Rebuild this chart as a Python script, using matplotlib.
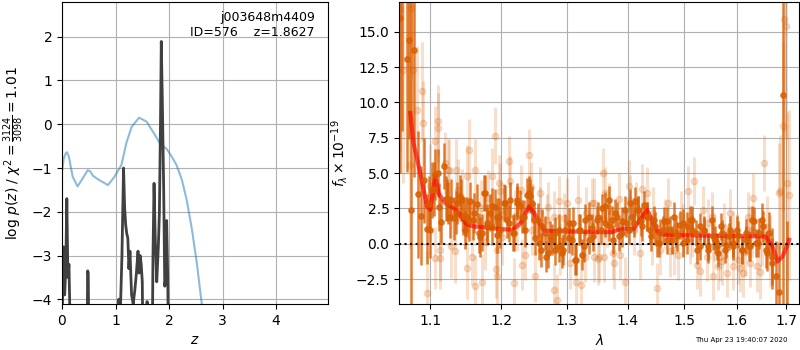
import numpy as np
import matplotlib
matplotlib.use('Agg')
import matplotlib.pyplot as plt
from matplotlib.ticker import ScalarFormatter, NullLocator, NullFormatter

# --- left panel: redshift fit ---
chi_z = [0.00, 0.03, 0.07, 0.094, 0.13, 0.20, 0.29, 0.38, 0.48, 0.53, 0.58, 0.70, 0.86,
         0.98, 1.11, 1.20, 1.30, 1.44, 1.58, 1.74, 1.83, 1.96, 2.05, 2.14, 2.24, 2.33,
         2.43, 2.52, 2.61, 2.70]
chi_val = [-1.10, -0.80, -0.66, -0.64, -0.75, -1.20, -1.42, -1.25, -1.05, -1.08, -1.18,
           -1.28, -1.39, -1.20, -0.93, -0.44, -0.06, 0.15, 0.06, -0.25, -0.44, -0.57,
           -0.74, -0.93, -1.27, -1.73, -2.42, -3.18, -4.09, -5.20]

pz_z = [0.00, 0.03, 0.05, 0.07, 0.09, 0.11, 0.13, 0.15, 0.16, 0.46, 0.48, 0.49, 0.51,
        1.03, 1.06, 1.09, 1.12, 1.15, 1.17, 1.19, 1.21, 1.23, 1.25, 1.27, 1.30, 1.33,
        1.36, 1.39, 1.42, 1.44, 1.46, 1.48, 1.50, 1.52, 1.57, 1.59, 1.61, 1.68, 1.70,
        1.72, 1.74, 1.77, 1.80, 1.82, 1.84, 1.855, 1.875, 1.90, 1.92, 1.94, 1.955,
        1.975, 2.00]
pz_val = [-4.6, -2.8, -3.9, -3.3, -1.7, -3.5, -3.2, -4.5, -6.0, -6.0, -3.35, -3.4, -6.0,
          -6.0, -4.0, -4.3, -3.0, -1.0, -1.9, -2.3, -2.5, -2.6, -3.3, -2.9, -3.9, -4.1,
          -3.8, -3.4, -2.9, -3.4, -3.0, -3.2, -3.6, -6.0, -6.0, -4.05, -6.0, -6.0, -3.0,
          -1.35, -2.5, -3.6, -2.8, -2.0, 0.0, 1.89, 0.5, -1.5, -3.7, -3.5, -2.2,
          -3.5, -6.0]

# --- right panel: spectrum ---
dark_wave = [1.0598, 1.0621, 1.0686, 1.0718, 1.0749, 1.0785, 1.0838, 1.0879, 1.0919, 1.0950,
             1.0987, 1.1027, 1.1063, 1.1108, 1.1144, 1.1185, 1.1217, 1.1244, 1.1286, 1.1326,
             1.1357, 1.1415, 1.1446, 1.1477, 1.1509, 1.1547, 1.1594, 1.1650, 1.1689, 1.1722,
             1.1760, 1.1793, 1.1833, 1.1866, 1.1906, 1.1939, 1.1958, 1.2033, 1.2083, 1.2130,
             1.2179, 1.2229, 1.2279, 1.2329, 1.2379, 1.2419, 1.2455, 1.2506, 1.2547, 1.2598,
             1.2649, 1.2702, 1.2764, 1.2816, 1.2868, 1.2921, 1.2973, 1.3037, 1.3090, 1.3133,
             1.3197, 1.3241, 1.3294, 1.3359, 1.3413, 1.3496, 1.3568, 1.3623, 1.3679, 1.3735,
             1.3791, 1.3847, 1.3904, 1.3960, 1.4017, 1.4075, 1.4132, 1.4189, 1.4231, 1.4277,
             1.4336, 1.4393, 1.4452, 1.4511, 1.4570, 1.4630, 1.4690, 1.4749, 1.4810, 1.4871,
             1.4931, 1.4991, 1.5053, 1.5114, 1.5157, 1.5239, 1.5300, 1.5381, 1.5445, 1.5521,
             1.5583, 1.5647, 1.5724, 1.5790, 1.5871, 1.5935, 1.6034, 1.6100, 1.6180, 1.6243,
             1.6309, 1.6377, 1.6443, 1.6509, 1.6578, 1.6645, 1.6712, 1.6781, 1.6849, 1.6939,
             1.7010,
             1.1000, 1.1044, 1.1112, 1.1226, 1.1272, 1.1364, 1.1411, 1.1481, 1.1528, 1.1599,
             1.1670, 1.1741, 1.1789, 1.1862, 1.1934, 1.1983, 1.2056, 1.2105, 1.2164, 1.2229,
             1.2304, 1.2354, 1.2415, 1.2480, 1.2557, 1.2609, 1.2671, 1.2738, 1.2816, 1.2868,
             1.2946, 1.3026, 1.3080, 1.3149, 1.3213, 1.3278, 1.3348, 1.3420, 1.3486, 1.3552,
             1.3623, 1.3695, 1.3762, 1.3829, 1.3904, 1.3977, 1.4046, 1.4115, 1.4189, 1.4258,
             1.4336, 1.4406, 1.4481, 1.4557, 1.4628, 1.4700, 1.4780, 1.4858,
             1.4991, 1.5064, 1.5146, 1.5226, 1.5300, 1.5375, 1.5456, 1.5540, 1.5615, 1.5692,
             1.5774, 1.5857, 1.5935, 1.6013, 1.6099, 1.6184, 1.6263, 1.6343, 1.6430, 1.6519,
             1.6600, 1.6702]
dark_flux = [16.0, 18.0, 13.1, 14.4, 2.4, 13.7, 3.5, 2.0, 4.5, 1.05,
             2.8, 3.8, 4.9, 5.0, 1.56, 5.5, 3.2, 2.9, 3.1, 1.8,
             2.2, 3.1, 2.0, 1.0, 1.9, 3.0, 1.7, 2.83, 0.5, 0.78,
             3.6, 1.5, 2.2, 1.2, 2.6, 0.64, 1.93, 2.9, 1.7, 3.1,
             0.78, 3.1, 2.64, 1.93, 3.47, 3.35, 2.9, 0.42, 1.7, -0.42,
             0.78, -0.64, 0.28, 0.78, -0.19, -0.64, 1.0, 0.42, 1.47, -1.13,
             1.0, -0.78, 1.7, 0.28, 1.13, 1.93, 2.53, 1.46, 3.1, 1.7,
             2.17, 0.52, 1.58, 2.4, 1.0, 1.93, 3.0, 2.4, 1.58, 2.76,
             1.93, 1.0, 1.7, 0.05, 0.76, 1.58, 0.28, 1.0, 1.93, 0.52,
             1.35, 0.05, 1.23, 1.7, 1.0, -0.42, 1.23, 0.87, -0.19, 1.7,
             0.28, -0.66, 0.76, -0.07, 1.0, 0.05, 0.64, -0.42, 0.28, -0.19,
             1.7, 0.05, 0.76, 1.7, -0.42, 0.76, -0.9, -2.3, -3.4, 10.55,
             -4.4,
             1.0, 3.9, 2.6, 3.1, 1.9, 2.9, 3.35, 1.93, 1.58, 2.17,
             0.76, 3.6, 1.23, 2.64, 1.93, 1.0, 2.88, 1.46, 0.76, 2.88,
             1.93, 1.0, 3.6, 1.7, 0.05, 1.23, -0.9, 0.52, -0.42, 1.0,
             -0.42, 1.46, 0.28, -1.13, 1.0, -0.19, 1.93, 0.52, 1.7, 1.0,
             2.64, 1.23, 0.28, 1.93, 0.76, 1.46, 2.88, 1.46, 2.4, 1.23,
             1.93, 0.52, 1.23, 0.05, 1.0, 1.58, 0.28, 0.76,
             1.46, 0.28, 1.7, 0.76, -0.19, 1.0, -0.42, 0.52, -0.19, 1.23,
             -0.42, 0.52, -0.19, 1.0, -0.42, 0.76, -0.19, 1.58, 0.05, 1.23,
             -0.66, -1.37]
dark_err = [11.0, 10.0, 8.0, 7.0, 20.0, 9.0, 4.5, 3.5, 3.0, 2.5,
            2.0, 2.0, 1.8, 1.7, 1.6, 1.6, 1.6, 1.5, 1.5, 1.5,
            1.5, 1.5, 1.4, 1.4, 1.4, 1.4, 1.4, 1.4, 1.4, 1.3,
            1.3, 1.3, 1.3, 1.3, 1.3, 1.3, 1.3, 1.3, 1.3, 1.3,
            1.3, 1.2, 1.2, 1.2, 1.2, 1.2, 1.2, 1.2, 1.2, 1.2,
            1.2, 1.1, 1.1, 1.1, 1.1, 1.1, 1.1, 1.1, 1.1, 1.1,
            1.1, 1.1, 1.1, 1.0, 1.0, 1.0, 1.0, 1.0, 1.0, 1.0,
            1.0, 1.0, 1.0, 1.0, 1.0, 1.0, 1.0, 1.0, 1.0, 1.0,
            1.0, 1.0, 1.0, 1.0, 1.0, 1.0, 1.0, 1.0, 1.0, 1.0,
            1.0, 1.0, 1.0, 1.0, 1.0, 1.0, 0.95, 0.95, 0.95, 0.95,
            0.95, 0.95, 0.95, 0.95, 0.95, 0.95, 0.95, 1.0, 1.0, 1.0,
            1.0, 1.0, 1.1, 1.2, 1.3, 1.5, 2.0, 2.5, 3.5, 15.0,
            6.0,
            2.0, 1.9, 1.7, 1.5, 1.5, 1.5, 1.5, 1.4, 1.4, 1.4,
            1.4, 1.3, 1.3, 1.3, 1.3, 1.3, 1.3, 1.3, 1.3, 1.2,
            1.2, 1.2, 1.2, 1.2, 1.2, 1.2, 1.1, 1.1, 1.1, 1.1,
            1.1, 1.1, 1.1, 1.1, 1.1, 1.1, 1.0, 1.0, 1.0, 1.0,
            1.0, 1.0, 1.0, 1.0, 1.0, 1.0, 1.0, 1.0, 1.0, 1.0,
            1.0, 1.0, 1.0, 1.0, 1.0, 1.0, 1.0, 1.0,
            1.0, 1.0, 1.0, 0.95, 0.95, 0.95, 0.95, 0.95, 0.95, 0.95,
            0.95, 0.95, 0.95, 0.95, 1.0, 1.0, 1.0, 1.0, 1.0, 1.1,
            1.3, 1.8]

light_wave = [1.0604, 1.0643, 1.0730, 1.0750, 1.0772, 1.0817, 1.0884, 1.0907, 1.0950, 1.0996,
              1.1063, 1.1098, 1.1101, 1.1131, 1.1197, 1.1244, 1.1286, 1.1357, 1.1430, 1.1500,
              1.1500, 1.1537, 1.1618, 1.1618, 1.1713, 1.1760, 1.1808, 1.1906, 1.1917, 1.1928,
              1.1934, 1.1958, 1.1983, 1.2012, 1.2105, 1.2130, 1.2179, 1.2234, 1.2294, 1.2354,
              1.2404, 1.2445, 1.2506, 1.2583, 1.2686, 1.2842, 1.2868, 1.3053, 1.3144, 1.3176,
              1.3229, 1.3294, 1.3403, 1.3430, 1.3512, 1.3584, 1.3595, 1.3623, 1.3679, 1.3774,
              1.3875, 1.3960, 1.4017, 1.4046, 1.4103, 1.4218, 1.4248, 1.4336, 1.4422, 1.4511,
              1.4570, 1.4719, 1.4749, 1.4900, 1.4991, 1.5083, 1.5114, 1.5177, 1.5238, 1.5300,
              1.5362, 1.5432, 1.5521, 1.5564, 1.5647, 1.5717, 1.5807, 1.5871, 1.5929, 1.6034,
              1.6131, 1.6164, 1.6230, 1.6303, 1.6329, 1.6397, 1.6463, 1.6550, 1.6604, 1.6665,
              1.6855, 1.6870, 1.6939, 1.6960, 1.6994, 1.7048,
              1.1067, 1.1135, 1.1249, 1.1341, 1.1575, 1.1862, 1.2304, 1.2583, 1.2790, 1.2790,
              1.3513, 1.3762, 1.4810, 1.3000, 1.2894, 1.3430, 1.5550, 1.5935, 1.6066, 1.6263,
              1.5678, 1.7015,
              1.2200, 1.2450, 1.2700, 1.2950, 1.3300, 1.3650, 1.3850, 1.4150, 1.4450, 1.4650,
              1.4950, 1.5150, 1.5450, 1.5750, 1.6000, 1.6250, 1.6500, 1.1380, 1.1700, 1.2000]
light_flux = [16.6, 12.3, 5.6, 16.7, 12.3, 9.5, 10.8, 8.55, -3.5, 4.06,
              7.25, 8.7, 8.2, -1.0, 5.7, 5.2, -0.19, 5.2, 3.1, -1.72,
              4.77, 6.65, 5.2, -2.97, -2.69, 0.16, 3.23, 7.65, -1.8, -0.42,
              -2.3, 4.3, 3.7, 0.5, 5.83, 4.41, -2.77, 1.3, 3.8, -0.78,
              6.3, 4.0, -2.3, 2.2, 1.7, -3.97, 3.0, -1.37, -2.7, 3.1,
              -2.9, -0.9, 2.88, 2.88, -1.1, 5.0, -0.9, 3.6, 2.53, -1.37,
              -0.78, -2.7, 4.1, 3.1, 1.0, -0.66, 3.87, 3.6, 0.28, -3.14,
              -0.42, 2.88, -0.54, -0.78, 1.0, 3.7, 0.3, 4.46, -1.49, -1.96,
              2.4, -0.9, 1.93, 0.5, -1.6, -1.2, -2.08, 2.17, 0.6, -1.13,
              -2.08, -0.6, 1.93, 0.9, 3.23, -1.6, -2.0, 5.7, 1.2, -0.54,
              3.6, 3.7, 8.3, 15.9, 15.4, 3.47,
              -1.0, -0.42, 5.24, -0.54, -0.9, 4.77, -1.49, 3.6, 1.93, -3.26,
              -0.9, -0.66, -0.42, 2.88, -0.42, -0.9, -2.3, -1.6, -1.72, -1.37,
              -0.9, 4.3,
              2.0, 1.0, 2.6, 1.8, 2.2, 1.6, 3.2, 2.6, 2.2, 1.4,
              2.0, 0.8, 1.5, 1.2, 0.4, 1.0, 0.2, 3.8, 2.5, 2.4]
light_err = [10.0, 8.0, 6.0, 5.0, 5.0, 4.5, 3.5, 3.0, 3.0, 3.0,
             2.5, 2.5, 2.5, 2.2, 2.2, 2.2, 2.2, 2.2, 2.2, 2.2,
             2.2, 2.2, 2.2, 2.2, 2.0, 2.0, 2.0, 2.0, 2.0, 2.0,
             2.0, 2.0, 2.0, 2.0, 1.8, 1.8, 1.8, 1.8, 1.8, 1.8,
             1.8, 1.8, 1.8, 1.8, 1.8, 1.8, 1.8, 1.8, 1.8, 1.8,
             1.8, 1.8, 1.8, 1.8, 1.8, 1.8, 1.8, 1.8, 1.8, 1.8,
             1.8, 1.8, 1.8, 1.8, 1.8, 1.8, 1.8, 1.8, 1.8, 1.8,
             1.8, 1.8, 1.8, 1.8, 1.8, 1.8, 1.7, 1.7, 1.7, 1.7,
             1.7, 1.7, 1.7, 1.7, 1.7, 1.7, 1.7, 1.7, 1.7, 1.7,
             1.7, 1.7, 1.7, 1.8, 1.8, 1.8, 1.9, 2.0, 2.2, 2.5,
             3.5, 4.0, 6.0, 8.0, 8.0, 6.0,
             2.2, 2.2, 2.2, 2.2, 2.0, 2.0, 1.8, 1.8, 1.8, 1.8,
             1.8, 1.8, 1.8, 1.8, 1.8, 1.8, 1.7, 1.7, 1.7, 1.7,
             1.7, 5.0,
             1.8, 1.8, 1.8, 1.8, 1.8, 1.8, 1.8, 1.8, 1.8, 1.8,
             1.7, 1.7, 1.7, 1.7, 1.7, 1.7, 1.8, 2.2, 2.0, 2.0]

model_wave = [1.0734, 1.0777, 1.0866, 1.0956, 1.1000, 1.1067, 1.1112, 1.1203, 1.1318, 1.1388,
              1.1505, 1.1599, 1.1742, 1.1937, 1.2161, 1.2287, 1.2414, 1.2491, 1.2569, 1.2646,
              1.2751, 1.3510, 1.3732, 1.3846, 1.3958, 1.4103, 1.4219, 1.4337, 1.4426, 1.4545,
              1.4664, 1.5597, 1.6577, 1.6714, 1.6816, 1.6920, 1.7024, 1.7058]
model_flux = [9.26, 7.13, 5.01, 2.65, 2.41, 4.77, 3.59, 2.88, 2.53, 2.17,
              1.35, 1.23, 1.18, 1.06, 0.99, 1.46, 2.65, 2.17, 1.46, 0.94,
              0.90, 0.83, 0.83, 0.99, 1.06, 1.04, 1.70, 2.41, 1.70, 0.76,
              0.64, 0.57, 0.52, -0.19, -1.25, -0.90, -0.07, 0.28]

wave_ticks = [1.1, 1.2, 1.3, 1.4, 1.5, 1.6, 1.7]
orange = '#d95f02'

fig = plt.figure(figsize=(8, 3.5), dpi=100)

# redshift panel
ax1 = fig.add_axes([0.0775, 0.131, 0.3325, 0.863])
ax1.plot(chi_z, chi_val, color='C0', alpha=0.5, linewidth=1.5)
ax1.plot(pz_z, pz_val, color='0.25', linewidth=2)
ax1.set_xlim(0, 4.97)
ax1.set_ylim(-4.11, 2.79)
ax1.set_xticks([0, 1, 2, 3, 4])
ax1.set_yticks([-4, -3, -2, -1, 0, 1, 2])
ax1.grid(True)
ax1.set_xlabel('$z$')
ax1.set_ylabel(r'log $p(z)$ / $\chi^2=\frac{3124}{3098}=1.01$')
ax1.text(0.95, 0.97, 'j003648m4409\nID=576    z=1.8627', transform=ax1.transAxes,
         ha='right', va='top', fontsize=9)

# spectrum panel
ax2 = fig.add_axes([0.499, 0.131, 0.5, 0.863])
ax2.errorbar(light_wave, light_flux, yerr=light_err, color=orange, alpha=0.2,
             marker='o', markersize=4.5, linestyle='none', elinewidth=2.2)
ax2.errorbar(dark_wave, dark_flux, yerr=dark_err, color=orange, alpha=0.8,
             marker='o', markersize=3.8, linestyle='none', elinewidth=1.8)
ax2.plot(model_wave, model_flux, color='r', alpha=0.65, linewidth=3)
ax2.axhline(0, color='k', linestyle=':', linewidth=1.5)
ax2.set_xscale('log')
ax2.set_xlim(1.059, 1.727)
ax2.set_ylim(-4.27, 17.1)
ax2.set_xticks(wave_ticks)
ax2.xaxis.set_major_formatter(ScalarFormatter())
ax2.xaxis.set_minor_locator(NullLocator())
ax2.xaxis.set_minor_formatter(NullFormatter())
ax2.grid(True)
ax2.set_xlabel(r'$\lambda$')
ax2.set_ylabel(r'$f_\lambda \times 10^{-19}$')

fig.text(0.984, 0.028, 'Thu Apr 23 19:40:07 2020', ha='right', va='center', fontsize=5)

fig.savefig('out.png', dpi=100)
